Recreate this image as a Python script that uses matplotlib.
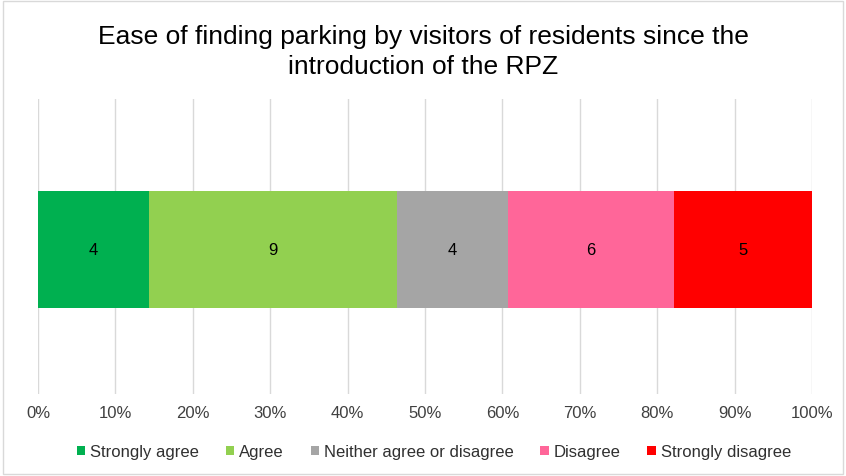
import matplotlib.pyplot as plt
from matplotlib.patches import Rectangle

# ============================================================
# DATA
# ============================================================
CATEGORIES = ["Strongly agree", "Agree", "Neither agree or disagree",
              "Disagree", "Strongly disagree"]
COUNTS = [4, 9, 4, 6, 5]
COLORS = ["#00B050", "#92D050", "#A5A5A5", "#FF6699", "#FF0000"]
TICKS = [0, 10, 20, 30, 40, 50, 60, 70, 80, 90, 100]
TITLE = ("Ease of finding parking by visitors of residents since the\n"
         "introduction of the RPZ")

plt.rcParams["font.family"] = ["Liberation Sans", "DejaVu Sans"]

fig = plt.figure(figsize=(8.46, 4.77), dpi=100)
ax = fig.add_axes([38 / 846, 1 - 395 / 477, (812 - 38) / 846, 295 / 477])

total = sum(COUNTS)
left = 0.0
for cat, n, col in zip(CATEGORIES, COUNTS, COLORS):
    w = n / total * 100
    ax.barh(0, w, left=left, height=0.397, color=col, label=cat, zorder=3)
    ax.text(left + w / 2, 0, str(n), ha="center", va="center",
            fontsize=12, color="black", zorder=4)
    left += w

ax.set_xlim(0, 100)
ax.set_ylim(-0.49, 0.51)
ax.set_xticks(TICKS)
ax.set_xticklabels([f"{t}%" for t in TICKS], fontsize=12, color="#404040")
ax.set_yticks([])
ax.tick_params(axis="x", length=0, pad=8)
ax.grid(axis="x", color="#D9D9D9", linewidth=1, zorder=0)
for s in ax.spines.values():
    s.set_visible(False)

fig.text(0.5, 1 - 25 / 477, TITLE, ha="center", va="top", fontsize=19,
         color="black", linespacing=1.3)

fig.legend(loc="center", bbox_to_anchor=(434 / 846, 1 - 453 / 477), ncol=5,
           frameon=False, fontsize=12, handlelength=0.5, handleheight=0.5,
           handletextpad=0.3, columnspacing=1.6, labelcolor="#303030")

fig.patches.append(Rectangle((0.004, 0.004), 0.992, 0.992, transform=fig.transFigure,
                             fill=False, edgecolor="#D9D9D9", linewidth=1))

fig.savefig("out.png", dpi=100)
